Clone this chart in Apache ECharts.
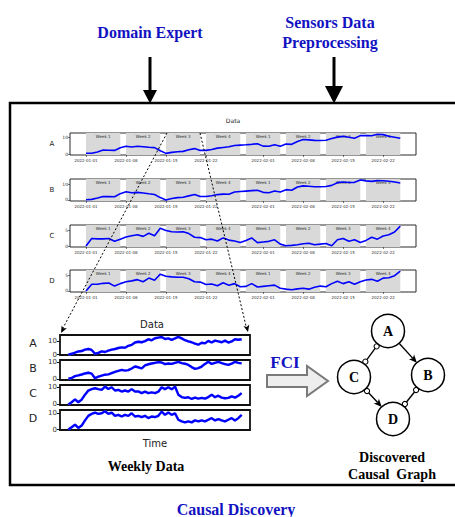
<!DOCTYPE html>
<html><head><meta charset="utf-8">
<script src="https://cdn.jsdelivr.net/npm/echarts@6/dist/echarts.min.js"></script>
<style>html,body{margin:0;padding:0;background:#fff}#c{width:455px;height:517px}</style>
</head><body><div id="c"></div>
<script>
// ---------------- data ----------------
const panelNames = ['A', 'B', 'C', 'D'];
const dateTickDays = [0, 7, 14, 21, 31, 38, 45, 52];
const dateTickLabels = ['2022-01-01', '2022-01-08', '2022-01-15', '2022-01-22', '2022-02-01', '2022-02-08', '2022-02-15', '2022-02-22'];
const weekStartDays = [0, 7, 14, 21, 28, 35, 42, 49];
const weekLabels = ['Week 1', 'Week 2', 'Week 3', 'Week 4', 'Week 1', 'Week 2', 'Week 3', 'Week 4'];

const dailyA = [0.5, 0.5, 1.2, 2.4, 2.3, 2.2, 3.8, 4.7, 4.3, 4.7, 4.4, 4.1, 3.9, 2.0, 0.4, 1.0, 1.4, 1.6, 2.6, 3.3, 2.2, 2.2, 2.8, 3.6, 4.0, 4.4, 5.2, 5.4, 5.6, 5.9, 6.3, 4.8, 4.7, 5.7, 4.7, 6.1, 5.9, 7.6, 8.8, 8.6, 8.3, 8.2, 8.4, 9.4, 10.3, 10.8, 10.2, 9.6, 11.2, 11.2, 11.1, 12.0, 11.8, 10.8, 10.2, 9.6];
const dailyB = [0.2, 0.4, 1.2, 2.2, 2.1, 2.0, 4.0, 5.2, 4.6, 4.8, 4.4, 3.9, 3.5, 1.5, 0.0, 0.9, 1.5, 1.7, 2.6, 3.5, 2.2, 2.2, 2.7, 3.4, 3.7, 3.6, 5.0, 5.3, 5.6, 5.9, 6.1, 4.8, 4.6, 5.7, 5.0, 6.5, 6.1, 8.2, 8.9, 8.6, 8.3, 8.3, 8.5, 9.2, 10.9, 11.3, 11.0, 11.1, 12.6, 12.0, 11.7, 12.2, 12.1, 11.8, 11.3, 10.7];
const dailyC = [0.0, 2.4, 2.3, 2.3, 2.4, 1.5, 2.2, 2.9, 3.3, 3.6, 3.1, 4.1, 3.3, 5.7, 5.0, 4.6, 4.5, 4.6, 4.0, 2.8, 2.7, 2.0, 2.2, 1.6, 2.6, 1.9, 1.6, 1.1, 1.8, 2.6, 1.1, 1.3, 1.5, 2.0, 0.6, 0.1, 0.2, 0.4, 0.7, 0.9, 0.4, 0.6, 0.8, 0.1, 2.0, 2.4, 1.5, 2.0, 1.1, 1.8, 2.8, 2.2, 3.2, 3.6, 4.5, 6.4];
const dailyD = [0.0, 2.2, 2.2, 2.5, 2.6, 1.6, 2.4, 3.0, 3.3, 3.7, 3.0, 4.2, 3.5, 5.5, 4.8, 4.6, 4.5, 4.5, 4.0, 3.0, 2.9, 2.1, 2.3, 1.7, 2.7, 1.9, 2.4, 1.4, 1.5, 2.4, 1.3, 1.5, 1.7, 1.9, 0.9, 0.6, 0.4, 0.7, 0.9, 0.6, 1.2, 1.6, 1.4, 2.4, 3.2, 2.4, 3.0, 2.2, 3.0, 3.6, 3.8, 3.2, 4.2, 4.3, 5.0, 6.5];

const weeklyA = [0.0, 0.6, 1.4, 2.3, 2.6, 3.6, 4.1, 3.4, 0.6, 1.2, 2.4, 1.9, 2.9, 3.6, 4.1, 4.8, 5.3, 5.0, 6.4, 7.1, 8.8, 9.4, 9.0, 9.8, 11.2, 10.4, 11.9, 12.4, 12.8, 11.4, 11.8, 10.8, 11.8, 12.9, 11.8, 10.5, 9.6, 9.0, 8.0, 7.2, 8.6, 8.2, 10.0, 8.8, 10.2, 9.6, 9.0, 10.2, 8.8, 9.6, 11.2, 10.8, 11.2];
const weeklyB = [0.5, 0.8, 1.9, 2.3, 2.8, 3.4, 3.8, 3.3, 0.7, 1.6, 2.2, 2.7, 2.9, 3.6, 4.3, 4.9, 5.4, 5.0, 5.3, 6.2, 7.3, 6.9, 6.2, 8.0, 8.6, 9.0, 9.4, 9.8, 9.6, 8.7, 9.0, 8.8, 9.4, 9.9, 9.2, 8.9, 8.2, 7.0, 6.0, 6.4, 7.3, 8.8, 10.0, 8.8, 9.4, 10.0, 9.2, 8.7, 8.2, 8.9, 10.0, 9.4, 9.1];
const weeklyC = [0.0, 1.3, 3.0, 1.3, 2.8, 5.7, 8.1, 8.9, 9.4, 8.9, 8.5, 10.4, 9.0, 10.0, 8.1, 8.5, 7.5, 8.1, 7.5, 8.9, 7.5, 7.6, 6.6, 7.5, 6.6, 7.0, 6.6, 7.4, 10.0, 8.9, 10.0, 8.8, 10.4, 5.7, 4.3, 3.8, 4.2, 3.2, 4.0, 3.4, 3.8, 3.4, 4.3, 5.7, 4.2, 5.1, 4.0, 3.6, 3.8, 4.7, 4.0, 5.1, 6.6];
const weeklyD = [0.0, 1.4, 3.0, 1.0, 2.4, 5.6, 8.4, 9.6, 10.4, 9.6, 10.0, 11.2, 9.6, 10.4, 8.4, 9.0, 8.0, 9.0, 8.4, 10.0, 8.0, 8.4, 7.6, 8.4, 7.0, 8.0, 7.6, 8.4, 11.0, 9.0, 10.4, 9.0, 10.0, 6.0, 5.0, 4.4, 5.0, 4.4, 5.6, 5.0, 5.6, 5.0, 6.0, 7.0, 5.6, 6.4, 5.6, 5.0, 6.0, 7.0, 5.6, 7.0, 9.0];

const dailyTicksAB = [0, 10];
const dailyTicksCD = [0, 5];
const weeklyTicks = [0, 10];

const nodeNames = ['A', 'B', 'C', 'D'];
const nodeX = [6.8, 10.8, 3.4, 7.3];
const nodeY = [10.9, 6.5, 6.3, 2.1];
// [from, to, mark at from end, mark at to end]
const edges = [['A', 'C', 'circle', 'circle'], ['A', 'B', 'none', 'arrow'], ['C', 'D', 'circle', 'arrow'], ['B', 'D', 'circle', 'circle']];

// ---------------- layout / style ----------------
const FONT_SANS = '"DejaVu Sans", sans-serif';
const FONT_SERIF = '"Liberation Serif", "Times New Roman", serif';
const BLUE_TXT = '#1212c2';

const dailySeries = [dailyA, dailyB, dailyC, dailyD];
const dailyRange = [[-0.6, 12.8], [-0.63, 13.2], [-0.32, 6.75], [-0.33, 6.85]];
const dailyTicks = [dailyTicksAB, dailyTicksAB, dailyTicksCD, dailyTicksCD];
const weeklySeries = [weeklyA, weeklyB, weeklyC, weeklyD];
const weeklyRange = [[-0.3, 14.3], [-0.3, 11], [-0.3, 11.3], [-0.3, 12]];

const topTops = [133, 179, 225, 270], topH = 22;
const wkTops = [335, 360, 385, 410], wkH = 20;

const grids = [], xAxes = [], yAxes = [], series = [];

for (let k = 0; k < 4; k++) {
  grids.push({ left: 70, top: topTops[k], width: 346, height: topH, show: true, borderColor: '#2a2a2a', borderWidth: 1, outerBoundsMode: 'none' });
  xAxes.push({
    gridIndex: k, type: 'value', min: -2.8, max: 57.75,
    axisLine: { show: false, onZero: false }, splitLine: { show: false },
    axisTick: { show: true, inside: false, length: 2, customValues: dateTickDays, lineStyle: { color: '#222', width: 0.6 } },
    axisLabel: { show: true, customValues: dateTickDays, fontSize: 4, color: '#333', margin: 3, fontFamily: FONT_SANS,
      formatter: v => { const i = dateTickDays.indexOf(Math.round(v)); return i >= 0 ? dateTickLabels[i] : ''; } }
  });
  yAxes.push({
    gridIndex: k, type: 'value', min: dailyRange[k][0], max: dailyRange[k][1],
    axisLine: { show: false, onZero: false }, splitLine: { show: false },
    axisTick: { show: true, inside: false, length: 2, customValues: dailyTicks[k], lineStyle: { color: '#222', width: 0.6 } },
    axisLabel: { show: true, customValues: dailyTicks[k], fontSize: 4.5, color: '#333', margin: 2, fontFamily: FONT_SANS }
  });
  series.push({
    type: 'line', xAxisIndex: k, yAxisIndex: k, symbol: 'none', showSymbol: false,
    data: dailySeries[k].map((v, d) => [d, v]),
    lineStyle: { color: '#0000ff', width: 1.6 }, z: 3,
    markArea: {
      silent: true,
      itemStyle: { color: '#d9d9d9', opacity: 1 },
      label: { show: true, position: 'insideTop', distance: 1, fontSize: 4, color: '#333', fontFamily: FONT_SANS },
      data: weekStartDays.map((s, i) => [{ xAxis: s, name: weekLabels[i] }, { xAxis: s + 6 }])
    }
  });
}
for (let k = 0; k < 4; k++) {
  const g = 4 + k;
  grids.push({ left: 60, top: wkTops[k], width: 190, height: wkH, show: true, borderColor: '#111', borderWidth: 1.8, outerBoundsMode: 'none' });
  xAxes.push({ gridIndex: g, type: 'value', min: -2.5, max: 54.5, show: false, axisLine: { onZero: false } });
  yAxes.push({
    gridIndex: g, type: 'value', min: weeklyRange[k][0], max: weeklyRange[k][1],
    axisLine: { show: false, onZero: false }, splitLine: { show: false },
    axisTick: { show: true, inside: false, length: 3, customValues: weeklyTicks, lineStyle: { color: '#111', width: 1 } },
    axisLabel: { show: true, customValues: weeklyTicks, fontSize: 7, color: '#333', margin: 3, fontFamily: FONT_SANS }
  });
  series.push({
    type: 'line', xAxisIndex: g, yAxisIndex: g, symbol: 'none', showSymbol: false,
    data: weeklySeries[k].map((v, i) => [i, v]),
    lineStyle: { color: '#0000ff', width: 2.4, shadowColor: 'rgba(90,90,255,0.6)', shadowBlur: 1.5 }, z: 3
  });
}

// causal graph coordinate system (hidden)
grids.push({ left: 320, top: 300, width: 130, height: 140, show: false, outerBoundsMode: 'none' });
xAxes.push({ gridIndex: 8, type: 'value', min: 0, max: 13, show: false, axisLine: { onZero: false } });
yAxes.push({ gridIndex: 8, type: 'value', min: 0, max: 14, show: false, axisLine: { onZero: false } });

const NODE_R = 16.5, SMALL_R = 2.6, ARROW_L = 8, ARROW_W = 7;
series.push({
  type: 'custom', xAxisIndex: 8, yAxisIndex: 8, z: 5, silent: true,
  data: edges.map(e => [nodeNames.indexOf(e[0]), nodeNames.indexOf(e[1])]),
  renderItem: (params, api) => {
    const i = api.value(0), j = api.value(1);
    const e = edges[params.dataIndex];
    const p1 = api.coord([nodeX[i], nodeY[i]]), p2 = api.coord([nodeX[j], nodeY[j]]);
    const dx = p2[0] - p1[0], dy = p2[1] - p1[1], L = Math.hypot(dx, dy);
    const ux = dx / L, uy = dy / L, px = -uy, py = ux;
    const children = [];
    let s = NODE_R, t = L - NODE_R;
    if (e[2] === 'circle') {
      children.push({ type: 'circle', z2: 2, shape: { cx: p1[0] + ux * (NODE_R + SMALL_R), cy: p1[1] + uy * (NODE_R + SMALL_R), r: SMALL_R }, style: { fill: '#fff', stroke: '#000', lineWidth: 1.1 } });
      s = NODE_R + 2 * SMALL_R;
    }
    if (e[3] === 'circle') {
      children.push({ type: 'circle', z2: 2, shape: { cx: p1[0] + ux * (L - NODE_R - SMALL_R), cy: p1[1] + uy * (L - NODE_R - SMALL_R), r: SMALL_R }, style: { fill: '#fff', stroke: '#000', lineWidth: 1.1 } });
      t = L - NODE_R - 2 * SMALL_R;
    } else if (e[3] === 'arrow') {
      const tx = p1[0] + ux * (L - NODE_R), ty = p1[1] + uy * (L - NODE_R);
      const bx = tx - ux * ARROW_L, by = ty - uy * ARROW_L;
      children.push({ type: 'polygon', z2: 2, shape: { points: [[tx, ty], [bx + px * ARROW_W / 2, by + py * ARROW_W / 2], [bx + ux * 2, by + uy * 2], [bx - px * ARROW_W / 2, by - py * ARROW_W / 2]] }, style: { fill: '#000' } });
      t = L - NODE_R - ARROW_L + 2;
    }
    children.unshift({ type: 'line', z2: 1, shape: { x1: p1[0] + ux * s, y1: p1[1] + uy * s, x2: p1[0] + ux * t, y2: p1[1] + uy * t }, style: { stroke: '#000', lineWidth: 1.4 } });
    return { type: 'group', children };
  }
});
series.push({
  type: 'custom', xAxisIndex: 8, yAxisIndex: 8, z: 6, silent: true,
  data: nodeNames.map((n, i) => [nodeX[i], nodeY[i]]),
  renderItem: (params, api) => {
    const p = api.coord([api.value(0), api.value(1)]);
    return { type: 'group', children: [
      { type: 'circle', shape: { cx: p[0], cy: p[1], r: NODE_R }, style: { fill: '#fff', stroke: '#000', lineWidth: 1.5 } },
      { type: 'text', z2: 2, style: { text: nodeNames[params.dataIndex], x: p[0], y: p[1] + 0.5, align: 'center', verticalAlign: 'middle', textAlign: 'center', textVerticalAlign: 'middle', font: 'bold 14px ' + FONT_SERIF, fill: '#000' } }
    ] };
  }
});

// ---------------- decorations ----------------
function txt(text, x, y, font, fill, align) {
  return { type: 'text', z: 50, silent: true, style: { text, x, y, font, fill, align: align || 'center', verticalAlign: 'middle', textAlign: align || 'center', textVerticalAlign: 'middle' } };
}
function arrowHead(x1, y1, x2, y2, len, w) {
  const L = Math.hypot(x2 - x1, y2 - y1), ux = (x2 - x1) / L, uy = (y2 - y1) / L, px = -uy, py = ux;
  const bx = x2 - ux * len, by = y2 - uy * len;
  return { type: 'polygon', z: 60, silent: true, shape: { points: [[x2, y2], [bx + px * w / 2, by + py * w / 2], [bx + ux * len * 0.25, by + uy * len * 0.25], [bx - px * w / 2, by - py * w / 2]] }, style: { fill: '#000' } };
}
function dashed(x1, y1, x2, y2) {
  return { type: 'line', z: 60, silent: true, shape: { x1, y1, x2, y2 }, style: { stroke: '#000', lineWidth: 1, lineDash: [2, 2] } };
}

const graphic = [
  { type: 'rect', z: 40, silent: true, shape: { x: 10, y: 103, width: 470, height: 382 }, style: { fill: 'none', stroke: '#000', lineWidth: 2.5 } },
  // input arrows
  { type: 'line', z: 41, silent: true, shape: { x1: 150, y1: 57, x2: 150, y2: 92 }, style: { stroke: '#000', lineWidth: 3 } },
  { type: 'polygon', z: 41, silent: true, shape: { points: [[143, 90], [157, 90], [150, 103.5]] }, style: { fill: '#000' } },
  { type: 'line', z: 41, silent: true, shape: { x1: 334, y1: 57, x2: 334, y2: 88 }, style: { stroke: '#000', lineWidth: 3 } },
  { type: 'polygon', z: 41, silent: true, shape: { points: [[325, 86], [343, 86], [334, 103.5]] }, style: { fill: '#000' } },
  txt('Domain Expert', 150, 32, 'bold 16px ' + FONT_SERIF, BLUE_TXT),
  txt('Sensors Data', 330, 22, 'bold 16px ' + FONT_SERIF, BLUE_TXT),
  txt('Preprocessing', 330, 42, 'bold 16px ' + FONT_SERIF, BLUE_TXT),
  txt('Causal Discovery', 236, 509, 'bold 16px ' + FONT_SERIF, BLUE_TXT),
  // top chart texts
  txt('Data', 233, 120, '6px ' + FONT_SANS, '#222'),
  // weekly chart texts
  txt('Data', 152, 324, '10px ' + FONT_SANS, '#222'),
  txt('Time', 155, 443, '10px ' + FONT_SANS, '#222'),
  txt('Weekly Data', 146, 466, 'bold 14px ' + FONT_SERIF, '#000'),
  txt('Discovered', 392, 457, 'bold 14px ' + FONT_SERIF, '#000'),
  txt('Causal  Graph', 392, 474, 'bold 14px ' + FONT_SERIF, '#000'),
  txt('FCI', 285, 362, 'bold 17px ' + FONT_SERIF, BLUE_TXT),
  // FCI block arrow
  { type: 'polygon', z: 41, silent: true, shape: { points: [[267, 375], [307, 375], [307, 366], [328, 381], [307, 396], [307, 387], [267, 387]] }, style: { fill: '#eeeeee', stroke: '#7a7a7a', lineWidth: 2, lineJoin: 'miter' } },
  // dashed zoom lines
  dashed(167, 133, 63, 328), arrowHead(167, 133, 61, 333, 7, 6),
  dashed(200, 133, 246, 326), arrowHead(200, 133, 248, 332, 7, 6)
];
panelNames.forEach((n, k) => {
  graphic.push(txt(n, 52, topTops[k] + topH / 2, '7px ' + FONT_SANS, '#222'));
  graphic.push(txt(n, 33, wkTops[k] + wkH / 2 - 2, '11px ' + FONT_SANS, '#222'));
});

const chart = echarts.init(document.getElementById('c'), null, { renderer: 'svg', width: 455, height: 517 });
chart.setOption({
  animation: false,
  backgroundColor: '#fff',
  grid: grids, xAxis: xAxes, yAxis: yAxes, series, graphic
});
</script>
</body></html>
